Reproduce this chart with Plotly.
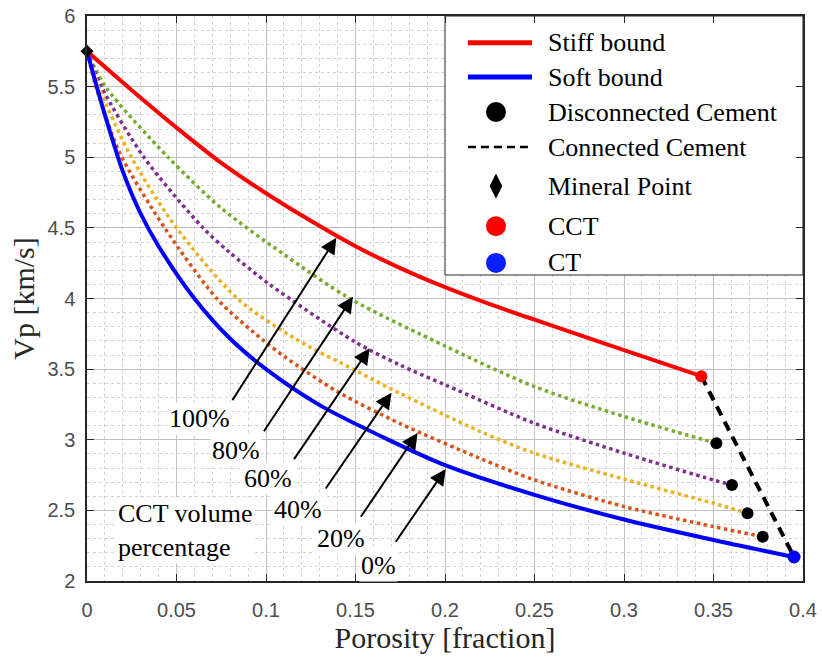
import plotly.graph_objects as go

# ---------------- data ----------------
mineral_x = [0.0]
mineral_y = [5.75]

cct_x = [0.3432]
cct_y = [3.45]

ct_x = [0.395]
ct_y = [2.17]

stiff_x = [0.0, 0.025, 0.05, 0.075, 0.1, 0.125, 0.15, 0.175, 0.2, 0.225, 0.25, 0.3, 0.3432]
stiff_y = [5.75, 5.475, 5.21, 4.96, 4.745, 4.55, 4.37, 4.215, 4.08, 3.96, 3.85, 3.635, 3.45]

soft_x = [0.0, 0.005, 0.01, 0.02, 0.03, 0.04, 0.06, 0.08, 0.1, 0.13, 0.17, 0.2, 0.25, 0.3, 0.35, 0.395]
soft_y = [5.75, 5.52, 5.30, 4.90, 4.60, 4.37, 4.0, 3.715, 3.5, 3.245, 2.99, 2.82, 2.61, 2.435, 2.29, 2.17]

cem80_x = [0.0, 0.0103, 0.0453, 0.075, 0.1105, 0.1468, 0.2008, 0.2501, 0.3004, 0.3516]
cem80_y = [5.75, 5.5, 5.0, 4.64, 4.308, 4.0, 3.659, 3.376, 3.163, 2.975]

cem60_x = [0.0, 0.008, 0.0318, 0.0648, 0.0793, 0.102, 0.1496, 0.1747, 0.2008, 0.2501, 0.3004, 0.35, 0.3603]
cem60_y = [5.75, 5.5, 5.0, 4.5, 4.33, 4.10, 3.694, 3.53, 3.385, 3.116, 2.904, 2.715, 2.68]

cem40_x = [0.0, 0.0065, 0.0248, 0.05, 0.084, 0.117, 0.1486, 0.1747, 0.2194, 0.2501, 0.3004, 0.35, 0.369]
cem40_y = [5.75, 5.5, 5.0, 4.5, 4.0, 3.71, 3.5, 3.33, 3.06, 2.904, 2.72, 2.55, 2.48]

cem20_x = [0.0, 0.005, 0.0183, 0.0434, 0.0732, 0.0983, 0.1104, 0.14, 0.1747, 0.2194, 0.2501, 0.3004, 0.35, 0.3775]
cem20_y = [5.75, 5.5, 5.03, 4.5, 3.99, 3.706, 3.588, 3.34, 3.116, 2.869, 2.715, 2.526, 2.385, 2.314]

connected_x = [0.3432, 0.395]
connected_y = [3.45, 2.17]

# percentage labels: text, label position, arrow tail, arrow head
pct_labels = ["100%", "80%", "60%", "40%", "20%", "0%"]
pct_label_x = [0.063, 0.0835, 0.1011, 0.1179, 0.1421, 0.1626]
pct_label_y = [3.154, 2.927, 2.727, 2.503, 2.302, 2.113]
arrow_tail_x = [0.0807, 0.0983, 0.1151, 0.1328, 0.1524, 0.1719]
arrow_tail_y = [3.27, 3.05, 2.852, 2.644, 2.444, 2.267]
arrow_head_x = [0.1393, 0.1486, 0.1579, 0.1701, 0.1847, 0.2004]
arrow_head_y = [4.43, 4.013, 3.647, 3.333, 3.048, 2.793]

legend_names = ["Stiff bound", "Soft bound", "Disconnected Cement", "Connected Cement",
                "Mineral Point", "CCT", "CT"]

# ---------------- styles ----------------
RED = "#ff0000"
BLUE = "#0000ff"
GREEN = "#77ac30"
PURPLE = "#7e2f8e"
YELLOW = "#edb120"
ORANGE = "#d95319"
SERIF = "Liberation Serif"
SANS = "Liberation Sans"
XR = [0, 0.4]
YR = [2, 6]

fig = go.Figure()

def curve(x, y, color, width, dash="solid"):
    fig.add_trace(go.Scatter(x=x, y=y, mode="lines",
                             line=dict(color=color, width=width, dash=dash,
                                       shape="spline", smoothing=0.8),
                             hoverinfo="skip"))

curve(cem80_x, cem80_y, GREEN, 3.5, "dot")
curve(cem60_x, cem60_y, PURPLE, 3.5, "dot")
curve(cem40_x, cem40_y, YELLOW, 3.5, "dot")
curve(cem20_x, cem20_y, ORANGE, 3.5, "dot")
curve(stiff_x, stiff_y, RED, 4)
curve(soft_x, soft_y, BLUE, 4)

fig.add_trace(go.Scatter(x=connected_x, y=connected_y, mode="lines",
                         line=dict(color="black", width=4, dash="10px,7px")))

disc_x = [cem80_x[-1], cem60_x[-1], cem40_x[-1], cem20_x[-1]]
disc_y = [cem80_y[-1], cem60_y[-1], cem40_y[-1], cem20_y[-1]]
fig.add_trace(go.Scatter(x=disc_x, y=disc_y, mode="markers",
                         marker=dict(color="black", size=12, opacity=1)))
fig.add_trace(go.Scatter(x=cct_x, y=cct_y, mode="markers",
                         marker=dict(color=RED, size=12, opacity=1)))
fig.add_trace(go.Scatter(x=ct_x, y=ct_y, mode="markers",
                         marker=dict(color=BLUE, size=13, opacity=1), cliponaxis=False))
fig.add_trace(go.Scatter(x=mineral_x, y=mineral_y, mode="markers",
                         marker=dict(color="black", size=10, symbol="diamond", opacity=1),
                         cliponaxis=False))

# ---------------- arrows and labels ----------------
for i, t in enumerate(pct_labels):
    fig.add_annotation(x=arrow_head_x[i], y=arrow_head_y[i],
                       ax=arrow_tail_x[i], ay=arrow_tail_y[i],
                       xref="x", yref="y", axref="x", ayref="y",
                       text="", showarrow=True, arrowhead=2, arrowsize=1.6,
                       arrowwidth=2, arrowcolor="black", standoff=0, startstandoff=0)
    fig.add_annotation(x=pct_label_x[i], y=pct_label_y[i], xref="x", yref="y",
                       text=t, showarrow=False, bgcolor="white",
                       font=dict(family=SERIF, size=26, color="black"))

fig.add_annotation(x=0.0405, y=0.0885, xref="paper", yref="paper",
                   text="CCT volume<br>percentage", showarrow=False, align="left",
                   xanchor="left", yanchor="middle", bgcolor="white",
                   font=dict(family=SERIF, size=26, color="black"))

# ---------------- legend (drawn manually) ----------------
box_x0, box_y0 = 0.5, 0.5416          # paper fractions of the legend box
fig.add_shape(type="rect", xref="x", yref="y",
              x0=XR[0] + box_x0 * (XR[1] - XR[0]), x1=XR[1],
              y0=YR[0] + box_y0 * (YR[1] - YR[0]), y1=YR[1],
              fillcolor="white", line=dict(color="#262626", width=1), layer="between")

row_y = [0.9527, 0.892, 0.830, 0.768, 0.699, 0.628, 0.563]
sym_x0, sym_x1, sym_xc, text_x = 0.532, 0.6215, 0.5712, 0.6415

fig.add_shape(type="line", xref="paper", yref="paper", x0=sym_x0, x1=sym_x1,
              y0=row_y[0], y1=row_y[0], line=dict(color=RED, width=5))
fig.add_shape(type="line", xref="paper", yref="paper", x0=sym_x0, x1=sym_x1,
              y0=row_y[1], y1=row_y[1], line=dict(color=BLUE, width=5))
fig.add_shape(type="line", xref="paper", yref="paper", x0=sym_x0, x1=sym_x1,
              y0=row_y[3], y1=row_y[3], line=dict(color="black", width=2.5, dash="8px,5px"))

leg_rows = [2, 4, 5, 6]
leg_colors = ["black", "black", RED, "#0a1eff"]
leg_sizes = [20, 18, 20, 20]
leg_symbols = ["circle", "diamond-tall", "circle", "circle"]
for r, c, s, sym in zip(leg_rows, leg_colors, leg_sizes, leg_symbols):
    fig.add_trace(go.Scatter(x=[XR[0] + sym_xc * (XR[1] - XR[0])],
                             y=[YR[0] + row_y[r] * (YR[1] - YR[0])],
                             mode="markers",
                             marker=dict(color=c, size=s, symbol=sym, opacity=1,
                                         line=dict(width=0)),
                             cliponaxis=False, hoverinfo="skip"))

for name, ry in zip(legend_names, row_y):
    fig.add_annotation(x=text_x, y=ry, xref="paper", yref="paper", text=name,
                       showarrow=False, xanchor="left", yanchor="middle",
                       font=dict(family=SERIF, size=26, color="black"))

# ---------------- axes ----------------
axis_common = dict(showline=True, linecolor="#262626", linewidth=1.5, mirror="ticks",
                   ticks="inside", ticklen=7, tickcolor="#262626", tickwidth=1,
                   showgrid=True, gridcolor="#c0c0c0", gridwidth=1, zeroline=False,
                   automargin=False,
                   tickfont=dict(family=SANS, size=20, color="#4d4d4d"))

fig.update_xaxes(range=XR, tick0=0, dtick=0.05,
                 minor=dict(dtick=0.01, showgrid=True, gridcolor="#d4d4d4",
                            griddash="3px,3px", gridwidth=1),
                 ticklabelstandoff=10,
                 title=dict(text="Porosity [fraction]", standoff=0,
                            font=dict(family=SERIF, size=30, color="#262626")),
                 **axis_common)
fig.update_yaxes(range=YR, tick0=2, dtick=0.5,
                 minor=dict(dtick=0.1, showgrid=True, gridcolor="#d4d4d4",
                            griddash="3px,3px", gridwidth=1),
                 ticklabelstandoff=6,
                 title=dict(text="Vp [km/s]", standoff=4,
                            font=dict(family=SERIF, size=30, color="#262626")),
                 **axis_common)

fig.update_layout(
    width=822, height=660,
    margin=dict(l=87, r=19, t=16, b=79),
    plot_bgcolor="white", paper_bgcolor="white",
    showlegend=False,
)

fig.write_html("out.html")
